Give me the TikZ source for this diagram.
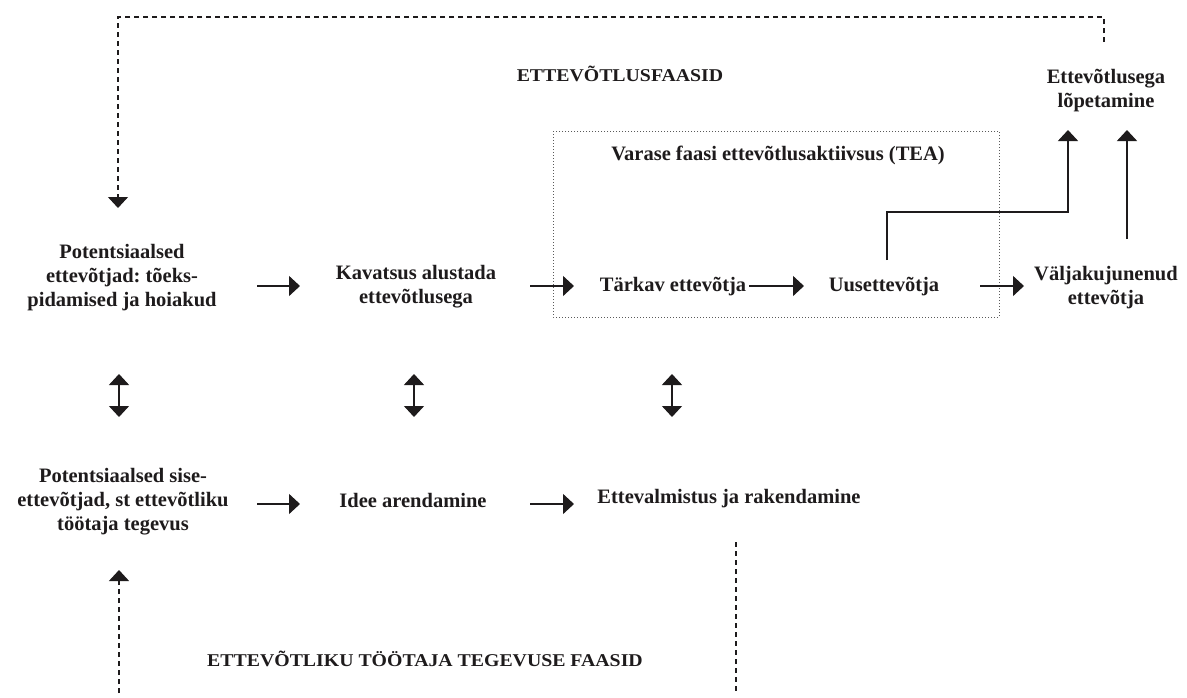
\documentclass[tikz,border=0pt]{standalone}
\usepackage{fontspec}
\setmainfont{Liberation Serif}
\newfontfamily\bodyfont{Liberation Serif Bold}
\newfontfamily\capsfont[FakeStretch=1.1]{Liberation Serif Bold}
\usetikzlibrary{arrows.meta}
\definecolor{ink}{RGB}{30,27,28}
\definecolor{dotgray}{RGB}{90,90,90}
\frenchspacing
\tikzset{
  tip/.tip={Triangle[width=20pt,length=11pt]},
  lbl/.style={inner sep=0pt, align=center, text=ink, font=\bodyfont\fontsize{20.5}{24}\selectfont},
  caps/.style={inner sep=0pt, text=ink, font=\capsfont\fontsize{18}{22}\selectfont},
  arr/.style={draw=ink, line width=1.4pt, -tip},
  darr/.style={draw=ink, line width=1.4pt, tip-tip},
  dashln/.style={draw=ink, line width=1.2pt, dash pattern=on 5pt off 4pt},
  dasharr/.style={dashln, -{Triangle[width=20pt,length=11pt,sep=0pt]}},
  teabox/.style={draw=dotgray, line width=0.9pt, dash pattern=on 1pt off 2pt}
}
\begin{document}
\begin{tikzpicture}[x=1pt,y=-1pt]
\useasboundingbox (0,0) rectangle (1187,697);
\fill[white] (0,0) rectangle (1187,697);

% TEA box
\draw[teabox] (553,131) rectangle (999,317);

% nodes, upper row
\node[caps] (faas) at (620,74) {ETTEVÕTLUSFAASID};
\node[lbl] (lop) at (1106,91) {Ettevõtlusega\\lõpetamine};
\node[lbl] (tea) at (778,155) {Varase faasi ettevõtlusaktiivsus (TEA)};
\node[lbl] (pot1) at (122,278) {Potentsiaalsed\\ettevõtjad: tõeks-\\pidamised ja hoiakud};
\node[lbl] (kav) at (416,287) {Kavatsus alustada\\ettevõtlusega};
\node[lbl] (tark) at (673,287) {Tärkav ettevõtja};
\node[lbl] (uus) at (884,287) {Uusettevõtja};
\node[lbl] (valj) at (1106,288) {Väljakujunenud\\ettevõtja};

% nodes, lower row
\node[lbl] (pot2) at (123,502) {Potentsiaalsed sise-\\ettevõtjad, st ettevõtliku\\töötaja tegevus};
\node[lbl] (idee) at (413,500) {Idee arendamine};
\node[lbl] (ett) at (729,499) {Ettevalmistus ja rakendamine};
\node[caps] (faas2) at (425,659) {ETTEVÕTLIKU TÖÖTAJA TEGEVUSE FAASID};

% arrow end points
\coordinate (a1s) at (257,286); \coordinate (a1e) at (300,286);
\coordinate (a2s) at (530,286); \coordinate (a2e) at (574,286);
\coordinate (a3s) at (749,286); \coordinate (a3e) at (804,286);
\coordinate (a4s) at (980,286); \coordinate (a4e) at (1024,286);
\coordinate (b1s) at (257,504); \coordinate (b1e) at (300,504);
\coordinate (b2s) at (530,504); \coordinate (b2e) at (574,504);
\coordinate (v1s) at (119,374); \coordinate (v1e) at (119,417);
\coordinate (v2s) at (414,374); \coordinate (v2e) at (414,417);
\coordinate (v3s) at (672,374); \coordinate (v3e) at (672,417);
\coordinate (u1) at (887,260); \coordinate (ucorner) at (1068,212); \coordinate (utip) at (1068,130);
\coordinate (r1) at (1127,239); \coordinate (rtip) at (1127,130);
\coordinate (d1) at (1104,42); \coordinate (dtop) at (118,17); \coordinate (dtip) at (118,208);
\coordinate (e1) at (119,693); \coordinate (etip) at (119,570);
\coordinate (f1) at (736,542); \coordinate (f2) at (736,693);

% connectors
\draw[arr] (a1s) -- (a1e);
\draw[arr] (a2s) -- (a2e);
\draw[arr] (a3s) -- (a3e);
\draw[arr] (a4s) -- (a4e);
\draw[arr] (b1s) -- (b1e);
\draw[arr] (b2s) -- (b2e);
\draw[darr] (v1s) -- (v1e);
\draw[darr] (v2s) -- (v2e);
\draw[darr] (v3s) -- (v3e);
\draw[arr] (u1) |- (ucorner) -- (utip);
\draw[arr] (r1) -- (rtip);
\draw[dasharr] (d1) |- (dtop) -- (dtip);
\draw[dasharr] (e1) -- (etip);
\draw[dashln] (f1) -- (f2);
\end{tikzpicture}
\end{document}
